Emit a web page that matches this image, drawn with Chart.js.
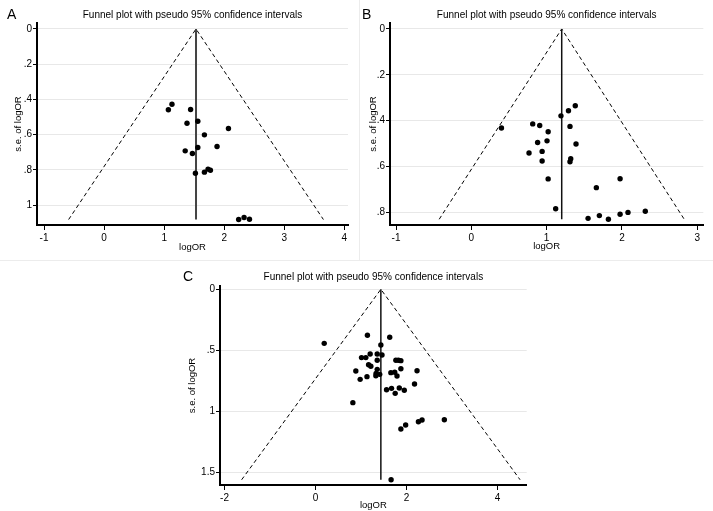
<!DOCTYPE html>
<html>
<head>
<meta charset="utf-8">
<script src="https://cdn.jsdelivr.net/npm/chart.js@4.4.0/dist/chart.umd.min.js"></script>
<style>
  body { margin: 0; background: #fff; width: 713px; height: 511px; position: relative; overflow: hidden;
         font-family: "Liberation Sans", Arial, sans-serif; }
  canvas { position: absolute; }
  .frame { position: absolute; border: 1px solid #ececec; box-sizing: border-box; }
  .tag { position: absolute; font-size: 14px; line-height: 1; color: #000; }
</style>
</head>
<body>
<div class="frame" style="left:-1px;top:-1px;width:361px;height:262px"></div>
<div class="frame" style="left:359px;top:-1px;width:356px;height:262px"></div>

<canvas id="chartA" width="357" height="259" style="left:0;top:0"></canvas>
<canvas id="chartB" width="356" height="259" style="left:357px;top:0"></canvas>
<canvas id="chartC" width="400" height="255" style="left:160px;top:256px"></canvas>

<div class="tag" style="left:7px;top:7px">A</div>
<div class="tag" style="left:362px;top:7px">B</div>
<div class="tag" style="left:183px;top:269px">C</div>

<script>
// ---- data ----
const titleText = "Funnel plot with pseudo 95% confidence intervals";

// panel A
const logOR_A = [1.07, 1.13, 1.44, 1.38, 1.56, 2.07, 1.67, 1.35, 1.47, 1.56, 1.88, 1.52, 1.67, 1.73, 1.77, 2.24, 2.33, 2.42];
const se_A    = [0.459, 0.427, 0.457, 0.535, 0.524, 0.565, 0.601, 0.692, 0.707, 0.673, 0.667, 0.819, 0.813, 0.796, 0.802, 1.082, 1.070, 1.080];
const pooled_A = 1.53;
const xTicks_A = [-1, 0, 1, 2, 3, 4];
const yTicks_A = [0, 0.2, 0.4, 0.6, 0.8, 1];
const yLabels_A = ["0", ".2", ".4", ".6", ".8", "1"];

// panel B
const logOR_B = [0.40, 0.815, 0.908, 1.02, 0.88, 1.005, 0.766, 0.94, 0.94, 1.02, 1.12, 1.19, 1.29, 1.38, 1.31, 1.39, 1.32, 1.31,
                 1.66, 1.55, 1.70, 1.82, 1.975, 1.975, 2.08, 2.31];
const se_B    = [0.432, 0.414, 0.421, 0.448, 0.495, 0.488, 0.541, 0.534, 0.576, 0.654, 0.784, 0.379, 0.357, 0.335, 0.425, 0.502, 0.566, 0.579,
                 0.692, 0.826, 0.814, 0.830, 0.653, 0.808, 0.800, 0.795];
const pooled_B = 1.20;
const xTicks_B = [-1, 0, 1, 2, 3];
const yTicks_B = [0, 0.2, 0.4, 0.6, 0.8];
const yLabels_B = ["0", ".2", ".4", ".6", ".8"];

// panel C
const logOR_C = [0.19, 1.14, 1.63, 1.435, 1.01, 1.105, 1.20, 1.355, 1.46, 1.355, 1.165, 1.215, 0.885, 1.355, 1.33, 1.325, 1.41, 1.13, 0.98,
                 1.765, 1.82, 1.875, 1.875, 1.655, 1.74, 1.79, 2.23, 2.175, 1.56, 1.67, 1.75, 1.84, 1.95, 0.82,
                 1.98, 1.875, 2.26, 2.34, 2.83, 1.66];
const se_C    = [0.443, 0.377, 0.393, 0.457, 0.560, 0.560, 0.530, 0.530, 0.539, 0.582, 0.618, 0.631, 0.670, 0.656, 0.689, 0.708, 0.697, 0.716, 0.738,
                 0.582, 0.582, 0.585, 0.651, 0.683, 0.680, 0.711, 0.667, 0.776, 0.823, 0.812, 0.853, 0.809, 0.828, 0.929,
                 1.112, 1.145, 1.085, 1.071, 1.069, 1.561];
const pooled_C = 1.435;
const xTicks_C = [-2, 0, 2, 4];
const yTicks_C = [0, 0.5, 1, 1.5];
const yLabels_C = ["0", ".5", "1", "1.5"];

Chart.defaults.font.family = '"Liberation Sans", Arial, sans-serif';
Chart.defaults.color = "#000";

function funnel(id, logOR, se, pooled, xTicks, yTicks, yLabels, opt) {
    const seMax = Math.max(...se);
    const points = logOR.map((v, i) => ({ x: v, y: se[i] }));
    const cone = [
        { x: pooled - 1.96 * seMax, y: seMax },
        { x: pooled, y: 0 },
        { x: pooled + 1.96 * seMax, y: seMax }
    ];
    const mid = [{ x: pooled, y: 0 }, { x: pooled, y: seMax }];

    return new Chart(document.getElementById(id), {
        type: "scatter",
        data: {
            datasets: [
                { data: points, pointRadius: 2.7, pointBackgroundColor: "#000", pointBorderWidth: 0 },
                { data: mid, showLine: true, pointRadius: 0, borderColor: opt.midColor, borderWidth: opt.midWidth },
                { data: cone, showLine: true, pointRadius: 0, borderColor: "#000", borderWidth: 1, borderDash: [4, 3] }
            ]
        },
        options: {
            responsive: false,
            animation: false,
            layout: { padding: { left: 0, right: opt.padRight, top: 0, bottom: 0 } },
            plugins: {
                legend: { display: false },
                tooltip: { enabled: false },
                title: {
                    display: true, text: titleText, fullSize: false, color: "#000",
                    font: { size: 10, weight: "normal", lineHeight: 1.2 },
                    padding: { top: opt.titleTop, bottom: opt.titleBottom }
                }
            },
            scales: {
                x: {
                    type: "linear", min: opt.xMin, max: opt.xMax,
                    afterBuildTicks: s => { s.ticks = xTicks.map(v => ({ value: v })); },
                    afterFit: s => { s.height = opt.xHeight; s.paddingLeft = 0; s.paddingRight = 0; },
                    grid: { drawOnChartArea: false, drawTicks: true, tickLength: 5, tickColor: "#000", tickWidth: 1 },
                    border: { display: true, color: "#000", width: 2 },
                    ticks: { font: { size: 10 }, padding: 2, maxRotation: 0, autoSkip: false },
                    title: { display: true, text: "logOR", font: { size: 9.5 }, padding: { top: 0, bottom: opt.xTitlePad } }
                },
                y: {
                    type: "linear", reverse: true, min: opt.yMin, max: opt.yMax,
                    afterBuildTicks: s => { s.ticks = yTicks.map(v => ({ value: v })); },
                    afterFit: s => { s.width = opt.yWidth; s.paddingTop = 0; s.paddingBottom = 0; },
                    grid: { color: "#e8e8e8", lineWidth: 1, drawTicks: true, tickLength: 4, tickColor: "#000", tickWidth: 1 },
                    border: { display: true, color: "#000", width: 2 },
                    ticks: { font: { size: 10 }, padding: 1, autoSkip: false, callback: (v, i) => yLabels[i] },
                    title: { display: true, text: "s.e. of logOR", font: { size: 9.5 }, padding: { top: opt.yTitlePad, bottom: 0 } }
                }
            }
        }
    });
}

funnel("chartA", logOR_A, se_A, pooled_A, xTicks_A, yTicks_A, yLabels_A, {
    xMin: -1.117, xMax: 4.06, yMin: -0.034, yMax: 1.113,
    padRight: 9, yWidth: 37, xHeight: 34, titleTop: 9.7, titleBottom: 1.3,
    xTitlePad: 6.3, yTitlePad: 12.3, midColor: "#444", midWidth: 2
});
funnel("chartB", logOR_B, se_B, pooled_B, xTicks_B, yTicks_B, yLabels_B, {
    xMin: -1.08, xMax: 3.08, yMin: -0.026, yMax: 0.855,
    padRight: 9.7, yWidth: 33, xHeight: 34, titleTop: 9.7, titleBottom: 1.3,
    xTitlePad: 7.3, yTitlePad: 10.3, midColor: "#111", midWidth: 1.5
});
funnel("chartC", logOR_C, se_C, pooled_C, xTicks_C, yTicks_C, yLabels_C, {
    xMin: -2.10, xMax: 4.64, yMin: -0.027, yMax: 1.604,
    padRight: 33.3, yWidth: 60, xHeight: 26, titleTop: 15.3, titleBottom: 2.7,
    xTitlePad: 0, yTitlePad: 26.6, midColor: "#111", midWidth: 1.5
});
</script>
</body>
</html>
